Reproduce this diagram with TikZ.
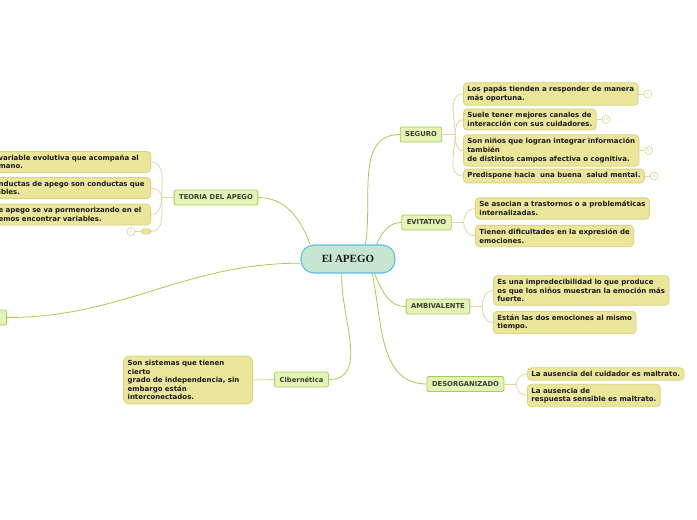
\documentclass[tikz,border=0pt]{standalone}
\usepackage{fontspec}
\setmainfont{DejaVu Sans}
\newfontfamily\raizfont{Liberation Serif}
\usetikzlibrary{positioning}
\definecolor{tinta}{HTML}{1A1A1A}
\definecolor{ramatexto}{HTML}{3A3F33}
\definecolor{raizfondo}{HTML}{C6E6D0}
\definecolor{raizborde}{HTML}{5CBDE6}
\definecolor{ramafondo}{HTML}{E2F5B6}
\definecolor{ramaborde}{HTML}{A3D05A}
\definecolor{hojafondo}{HTML}{ECE69B}
\definecolor{hojaborde}{HTML}{D9D283}
\definecolor{lineatronco}{HTML}{A8C94E}
\definecolor{lineabrote}{HTML}{DDD8A0}
\tikzset{
  raiz/.style={draw=raizborde,fill=raizfondo,rounded corners=13pt,line width=1.1pt,minimum width=94pt,minimum height=28pt,font=\raizfont\bfseries\fontsize{11}{13}\selectfont,text=tinta},
  rama/.style={draw=ramaborde,fill=ramafondo,rounded corners=2pt,line width=0.8pt,minimum height=15pt,inner xsep=5pt,inner ysep=2pt,font=\bfseries\fontsize{6.8}{8}\selectfont,text=ramatexto},
  hoja/.style={draw=hojaborde,fill=hojafondo,rounded corners=4pt,line width=0.8pt,align=left,inner xsep=4pt,inner ysep=3.5pt,font=\bfseries\fontsize{7}{8.6}\selectfont,text=tinta},
  marca/.style={circle,draw=hojaborde,fill=white,line width=0.6pt,minimum size=8pt,inner sep=0pt,font=\fontsize{3.5}{4}\selectfont,text=hojaborde},
  tronco/.style={draw=lineatronco,line width=0.8pt},
  brote/.style={draw=lineabrote,line width=0.8pt},
}
\begin{document}
\begin{tikzpicture}[x=1pt,y=1pt]
  \useasboundingbox (0,0) rectangle (697,-520);
  \clip (0,0) rectangle (697,-520);
  % centro y ramas
  \node[raiz] (raiz) at (348,-259) {El APEGO};
  \node[rama] (seguro) at (421,-134.5) {SEGURO};
  \node[rama] (evitativo) at (426.5,-222.5) {EVITATIVO};
  \node[rama] (ambivalente) at (438,-306.5) {AMBIVALENTE};
  \node[rama] (desorg) at (465.5,-384) {DESORGANIZADO};
  \node[rama] (ciber) at (301.5,-379.5) {Cibernética};
  \node[rama] (teoria) at (216,-197.5) {TEORIA DEL APEGO};
  \node[rama,anchor=east,minimum width=40pt] (izq) at (7,-317.5) {};
  \draw[tronco] (raiz.159) to[out=110,in=0] (teoria.east);
  \draw[tronco] (raiz.40) to[out=80,in=180] (seguro.west);
  \draw[tronco] (raiz.27) to[out=65,in=180] (evitativo.west);
  \draw[tronco] (raiz.-29) to[out=-65,in=180] (ambivalente.west);
  \draw[tronco] (raiz.-31) to[out=-78,in=180] (desorg.west);
  \draw[tronco] (raiz.-113) to[out=-93,in=0] (ciber.east);
  \draw[tronco] (raiz.185) to[out=180,in=0] (izq.east);
  % SEGURO
  \node[hoja,anchor=west] (s1) at (463,-94) {Los papás tienden a responder de manera\\más oportuna.};
  \node[hoja,anchor=west] (s2) at (463,-119.5) {Suele tener mejores canales de\\interacción con sus cuidadores.};
  \node[hoja,anchor=west] (s3) at (463,-150.5) {Son niños que logran integrar información\\también\\de distintos campos afectiva o cognitiva.};
  \node[hoja,anchor=west] (s4) at (463,-176) {Predispone hacia\ \ una buena\ \ salud mental.};
  \node[marca,right=5pt of s1] (m1) {6};
  \node[marca,right=5pt of s2] (m2) {14};
  \node[marca,right=5pt of s3] (m3) {10};
  \node[marca,right=5pt of s4] (m4) {8};
  \foreach \h in {1,...,4} \draw[brote] (s\h.east) -- (m\h);
  \coordinate (js) at ([xshift=13pt]seguro.east);
  \draw[brote] (seguro.east) -- (js);
  \draw[brote] (js) to[out=90,in=180] (s1.west);
  \draw[brote] (js) to[out=90,in=180] (s2.west);
  \draw[brote] (js) to[out=-90,in=180] (s3.west);
  \draw[brote] (js) to[out=-90,in=180] (s4.west);
  % EVITATIVO
  \node[hoja,anchor=west] (e1) at (475,-208.5) {Se asocian a trastornos o a problemáticas\\internalizadas.};
  \node[hoja,anchor=west] (e2) at (475,-236) {Tienen dificultades en la expresión de\\emociones.};
  \coordinate (je) at ([xshift=12pt]evitativo.east);
  \draw[brote] (evitativo.east) -- (je);
  \draw[brote] (je) to[out=90,in=180] (e1.west);
  \draw[brote] (je) to[out=-90,in=180] (e2.west);
  % AMBIVALENTE
  \node[hoja,anchor=west] (a1) at (493,-290.5) {Es una impredecibilidad lo que produce\\es que los niños muestran la emoción más\\fuerte.};
  \node[hoja,anchor=west] (a2) at (493,-322.5) {Están las dos emociones al mismo\\tiempo.};
  \coordinate (ja) at ([xshift=12pt]ambivalente.east);
  \draw[brote] (ambivalente.east) -- (ja);
  \draw[brote] (ja) to[out=90,in=180] (a1.west);
  \draw[brote] (ja) to[out=-90,in=180] (a2.west);
  % DESORGANIZADO
  \node[hoja,anchor=west] (d1) at (527,-374) {La ausencia del cuidador es maltrato.};
  \node[hoja,anchor=west] (d2) at (527,-395.5) {La ausencia de\\respuesta sensible es maltrato.};
  \coordinate (jd) at ([xshift=12pt]desorg.east);
  \draw[brote] (desorg.east) -- (jd);
  \draw[brote] (jd) to[out=90,in=180] (d1.west);
  \draw[brote] (jd) to[out=-90,in=180] (d2.west);
  % Cibernetica
  \node[hoja,anchor=east,text width=121pt,minimum height=48pt,rounded corners=6pt] (c1) at (253,-380) {Son sistemas que tienen\\cierto\\grado de independencia, sin\\embargo están\\interconectados.};
  \draw[brote] (ciber.west) -- (c1.east);
  % TEORIA DEL APEGO
  \node[hoja,anchor=east,text width=148pt] (t1) at (151,-162) {variable evolutiva que acompaña al\\mano.};
  \node[hoja,anchor=east,text width=148pt] (t2) at (151,-188) {nductas de apego son conductas que\\ibles.};
  \node[hoja,anchor=east,text width=148pt] (t3) at (151,-214.5) {e apego se va pormenorizando en el\\emos encontrar variables.};
  \node[hoja,anchor=east,minimum width=9pt,minimum height=5pt,inner sep=0pt,rounded corners=1.5pt] (t4) at (151,-231.5) {};
  \node[marca,left=6pt of t4] (m5) {0};
  \draw[brote] (t4.west) -- (m5);
  \coordinate (jt) at ([xshift=-12pt]teoria.west);
  \draw[brote] (teoria.west) -- (jt);
  \draw[brote] (jt) to[out=90,in=0] (t1.east);
  \draw[brote] (jt) to[out=90,in=0] (t2.east);
  \draw[brote] (jt) to[out=-90,in=0] (t3.east);
  \draw[brote] (jt) to[out=-90,in=0] (t4.east);
\end{tikzpicture}
\end{document}
